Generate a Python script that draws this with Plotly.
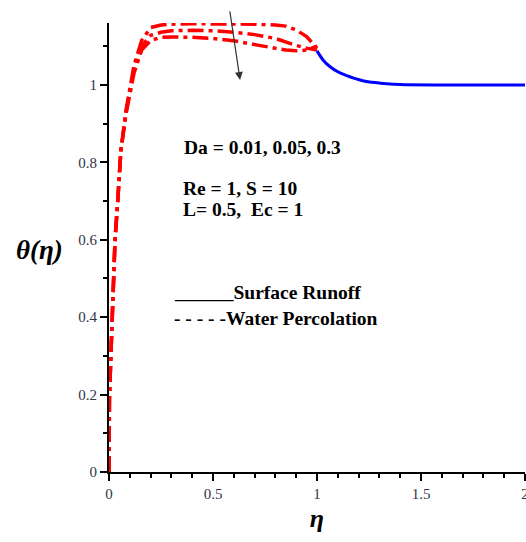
import plotly.graph_objects as go

# Water-percolation region (three Da values), eta in [0, 1]
eta_red = [0, 0.002, 0.013, 0.021, 0.029, 0.042, 0.057, 0.082, 0.12, 0.157, 0.2,
           0.25, 0.3, 0.4, 0.5, 0.6, 0.7, 0.8, 0.85, 0.9, 0.95, 1.0]
theta_da1 = [0, 0.19, 0.36, 0.48, 0.6, 0.7, 0.83, 0.935, 1.05, 1.115, 1.148,
             1.155, 1.157, 1.158, 1.158, 1.158, 1.157, 1.155, 1.152, 1.142, 1.125, 1.095]
theta_da2 = [0, 0.19, 0.36, 0.48, 0.6, 0.7, 0.83, 0.93, 1.04, 1.1, 1.128,
             1.136, 1.14, 1.141, 1.14, 1.136, 1.13, 1.12, 1.11, 1.102, 1.095, 1.09]
theta_da3 = [0, 0.19, 0.36, 0.48, 0.6, 0.7, 0.83, 0.925, 1.03, 1.09, 1.115,
             1.123, 1.124, 1.123, 1.12, 1.114, 1.104, 1.096, 1.09, 1.088, 1.09, 1.1]

# Surface-runoff region, eta in [1, 2]
eta_blue = [1.0, 1.03, 1.063, 1.1, 1.143, 1.18, 1.22, 1.28, 1.335, 1.4, 1.6, 1.8, 2.0]
theta_blue = [1.088, 1.064, 1.047, 1.034, 1.024, 1.017, 1.011, 1.006, 1.003, 1.001, 1.0, 1.0, 1.0]

x_ticks = [0, 0.5, 1, 1.5, 2]
x_tick_labels = ["0", "0.5", "1", "1.5", "2"]
y_ticks = [0, 0.2, 0.4, 0.6, 0.8, 1]
y_tick_labels = ["0", "0.2", "0.4", "0.6", "0.8", "1"]

fig = go.Figure()
dash_style = "16px,5px,4px,5px"
for th in (theta_da1, theta_da2, theta_da3):
    fig.add_trace(go.Scatter(x=eta_red, y=th, mode="lines",
                             line=dict(color="#ff0000", width=3.5, dash=dash_style),
                             showlegend=False, hoverinfo="skip"))
fig.add_trace(go.Scatter(x=eta_blue, y=theta_blue, mode="lines",
                         line=dict(color="#0000ff", width=3, shape="spline"),
                         showlegend=False, hoverinfo="skip"))

serif = "Liberation Serif, Times New Roman, serif"
axis_common = dict(showgrid=False, zeroline=False, showline=True,
                   linecolor="black", linewidth=2, ticks="outside", ticklen=7,
                   tickwidth=2, tickcolor="black",
                   minor=dict(dtick=0.1, ticks="outside", ticklen=4, tickwidth=2,
                              tickcolor="black"),
                   tickfont=dict(family=serif, size=15, color="#334"),
                   ticklabeloverflow="allow", automargin=False)
fig.update_layout(
    width=526, height=542,
    margin=dict(l=109, r=1, t=23, b=70, autoexpand=False),
    paper_bgcolor="white", plot_bgcolor="white",
    font=dict(family=serif, color="#222", size=12),
    xaxis=dict(range=[0, 2], tickvals=x_ticks, ticktext=x_tick_labels,
               title=dict(text="<b><i>η</i></b>",
                          font=dict(family=serif, size=26, color="black"),
                          standoff=8),
               **axis_common),
    yaxis=dict(range=[0, 1.16], tickvals=y_ticks, ticktext=y_tick_labels,
               ticklabelstandoff=0, **axis_common),
)

# y axis title
fig.add_annotation(text="<b><i>θ(η)</i></b>", xref="paper", yref="paper",
                   x=-0.168, y=0.494, xanchor="center", yanchor="middle",
                   showarrow=False,
                   font=dict(family=serif, size=27, color="black"))

def txt(s, x, y):
    fig.add_annotation(text="<b>" + s + "</b>", x=x, y=y, xref="x", yref="y",
                       xanchor="left", yanchor="middle", showarrow=False,
                       font=dict(family=serif, size=19.5, color="black"))

txt("Da = 0.01, 0.05, 0.3", 0.351, 0.839)
txt("Re = 1, S = 10", 0.346, 0.733)
txt("L= 0.5,  Ec = 1", 0.346, 0.678)
txt("______Surface Runoff", 0.303, 0.465)
txt("- - - - -Water Percolation", 0.303, 0.397)

# arrow indicating increasing Da
fig.add_annotation(x=0.63, y=1.013, ax=0.58, ay=1.194, xref="x", yref="y",
                   axref="x", ayref="y", showarrow=True, arrowhead=2,
                   arrowsize=1.3, arrowwidth=1.2, arrowcolor="#333", text="")

fig.write_html("out.html")
